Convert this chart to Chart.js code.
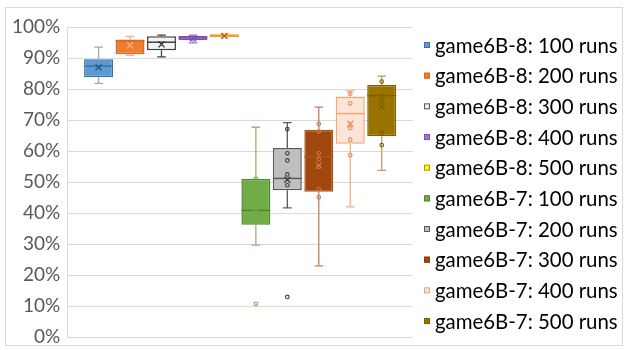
<!DOCTYPE html>
<html><head><meta charset="utf-8">
<script src="https://cdn.jsdelivr.net/npm/chart.js@4.4.1/dist/chart.umd.min.js"></script>
<style>html,body{margin:0;padding:0;background:#fff}#wrap{width:625px;height:350px}</style>
</head><body><div id="wrap"><canvas id="c" width="625" height="350"></canvas></div>
<script>
const seriesNames = ['game6B-8: 100 runs','game6B-8: 200 runs','game6B-8: 300 runs','game6B-8: 400 runs','game6B-8: 500 runs','game6B-7: 100 runs','game6B-7: 200 runs','game6B-7: 300 runs','game6B-7: 400 runs','game6B-7: 500 runs'];
const minVals    = [0.818,0.909,0.904,0.949,0.968,0.297,0.417,0.230,0.420,0.538];
const q1Vals     = [0.838,0.912,0.925,0.957,0.968,0.363,0.474,0.469,0.624,0.648];
const medianVals = [0.874,0.955,0.951,0.965,0.972,0.409,0.512,0.582,0.721,0.779];
const q3Vals     = [0.896,0.960,0.970,0.971,0.977,0.511,0.610,0.669,0.776,0.813];
const maxVals    = [0.935,0.970,0.974,0.974,0.978,0.677,0.692,0.742,0.794,0.842];
const meanVals   = [0.870,0.941,0.944,0.963,0.971,0.413,0.508,0.554,0.688,0.744];
const innerPoints = [[],[],[],[],[],[0.511,0.443,0.386],[0.671,0.593,0.570,0.525,0.490],[0.688,0.663,0.593,0.574,0.550,0.477,0.451],[0.785,0.754,0.674,0.637,0.587],[0.824,0.776,0.760,0.659,0.619]];
const outlierPoints = [[],[],[],[],[],[0.108],[0.130],[],[],[]];
const yTicks = [0,0.1,0.2,0.3,0.4,0.5,0.6,0.7,0.8,0.9,1.0];

const fillColors   = ['#5B9BD5','#ED7D31','#F2F2F2','#A374D5','#FFC000','#70AD47','#BFBFBF','#9E480E','#FBE5D6','#997300'];
const borderColors = ['#41719C','#DA6B22','#404040','#7E4FAD','#F0A020','#548235','#595959','#A9531C','#F0A77A','#7F6000'];
const whiskerColors= ['#A6A6A6','#F4B183','#404040','#9E7BC8','#F4B183','#8FBC6F','#595959','#C08060','#F4B183','#B8A060'];
const markColors   = ['#264478','#F4B183','#262626','#7E4FAD','#C55A11','#70AD47','#404040','#C87850','#E8895A','#806000'];
const legendFill   = ['#5B9BD5','#ED7D31','#F2F2F2','#A374D5','#FFFF00','#70AD47','#BFBFBF','#9E480E','#FBE5D6','#997300'];
const legendBorder = ['#41719C','#DA6B22','#595959','#7E4FAD','#C09000','#548235','#595959','#843C0C','#F0A77A','#7F6000'];

const datasets = seriesNames.map((n,i)=>({
  label:n,
  data:[[q1Vals[i], q3Vals[i]]],
  backgroundColor:fillColors[i],
  borderColor:borderColors[i],
  borderWidth:1.5,
  borderSkipped:false
}));

const boxPlugin = {
  id:'boxExtras',
  beforeDraw(chart){
    const ctx = chart.ctx;
    ctx.save();
    ctx.strokeStyle='#D9D9D9'; ctx.lineWidth=1;
    ctx.strokeRect(5.5,7.5,617,338);
    ctx.restore();
  },
  afterDatasetsDraw(chart){
    const ctx = chart.ctx, ys = chart.scales.y;
    chart.data.datasets.forEach((ds,i)=>{
      const bar = chart.getDatasetMeta(i).data[0];
      if(!bar) return;
      const x = bar.x, w = bar.width, cap = w*0.3;
      const py = v=>ys.getPixelForValue(v);
      ctx.save();
      ctx.strokeStyle = whiskerColors[i]; ctx.lineWidth=1.3;
      ctx.beginPath();
      ctx.moveTo(x,py(q3Vals[i])); ctx.lineTo(x,py(maxVals[i]));
      ctx.moveTo(x,py(q1Vals[i])); ctx.lineTo(x,py(minVals[i]));
      ctx.moveTo(x-cap/2,py(maxVals[i])); ctx.lineTo(x+cap/2,py(maxVals[i]));
      ctx.moveTo(x-cap/2,py(minVals[i])); ctx.lineTo(x+cap/2,py(minVals[i]));
      ctx.stroke();
      ctx.strokeStyle = borderColors[i]; ctx.lineWidth=1.5;
      ctx.beginPath();
      ctx.moveTo(x-w/2,py(medianVals[i])); ctx.lineTo(x+w/2,py(medianVals[i]));
      ctx.stroke();
      ctx.strokeStyle = markColors[i]; ctx.lineWidth=1.1;
      innerPoints[i].concat(outlierPoints[i]).forEach(v=>{
        ctx.beginPath(); ctx.arc(x,py(v),1.8,0,Math.PI*2); ctx.stroke();
      });
      const my = py(meanVals[i]), s=3;
      ctx.strokeStyle = markColors[i]; ctx.lineWidth=1.3;
      ctx.beginPath();
      ctx.moveTo(x-s,my-s); ctx.lineTo(x+s,my+s);
      ctx.moveTo(x+s,my-s); ctx.lineTo(x-s,my+s);
      ctx.stroke();
      ctx.restore();
    });
  },
  afterDraw(chart){
    const ctx = chart.ctx;
    const left = chart.chartArea.right + 11, top = 45, step = 30.67;
    ctx.save();
    ctx.font = '20.4px Lato';
    ctx.textBaseline = 'middle';
    chart.data.datasets.forEach((ds,i)=>{
      const cy = top + i*step;
      ctx.fillStyle = legendFill[i];
      ctx.fillRect(left, cy-3, 6, 6);
      ctx.strokeStyle = legendBorder[i]; ctx.lineWidth=1;
      ctx.strokeRect(left+0.5, cy-2.5, 5, 5);
      ctx.fillStyle = '#000';
      ctx.fillText(ds.label, left+11, cy+1);
    });
    ctx.restore();
  }
};

new Chart(document.getElementById('c'),{
  type:'bar',
  data:{labels:[''],datasets},
  plugins:[boxPlugin],
  options:{
    responsive:false,
    animation:false,
    devicePixelRatio:1,
    layout:{padding:{top:27,left:5,right:212,bottom:0}},
    datasets:{bar:{categoryPercentage:0.91,barPercentage:0.92}},
    plugins:{
      tooltip:{enabled:false},
      legend:{display:false}
    },
    scales:{
      x:{display:false},
      y:{
        min:0,max:1,
        afterBuildTicks(axis){ axis.ticks = yTicks.map(v=>({value:v})); },
        ticks:{
          callback:v=>Math.round(v*100)+'%',
          font:{family:'Lato',size:19,lineHeight:0.6},
          color:'#595959',
          padding:7
        },
        grid:{color:'#D9D9D9',lineWidth:1,drawTicks:false},
        border:{display:true,color:'#D9D9D9'}
      }
    }
  }
});
</script></body></html>
